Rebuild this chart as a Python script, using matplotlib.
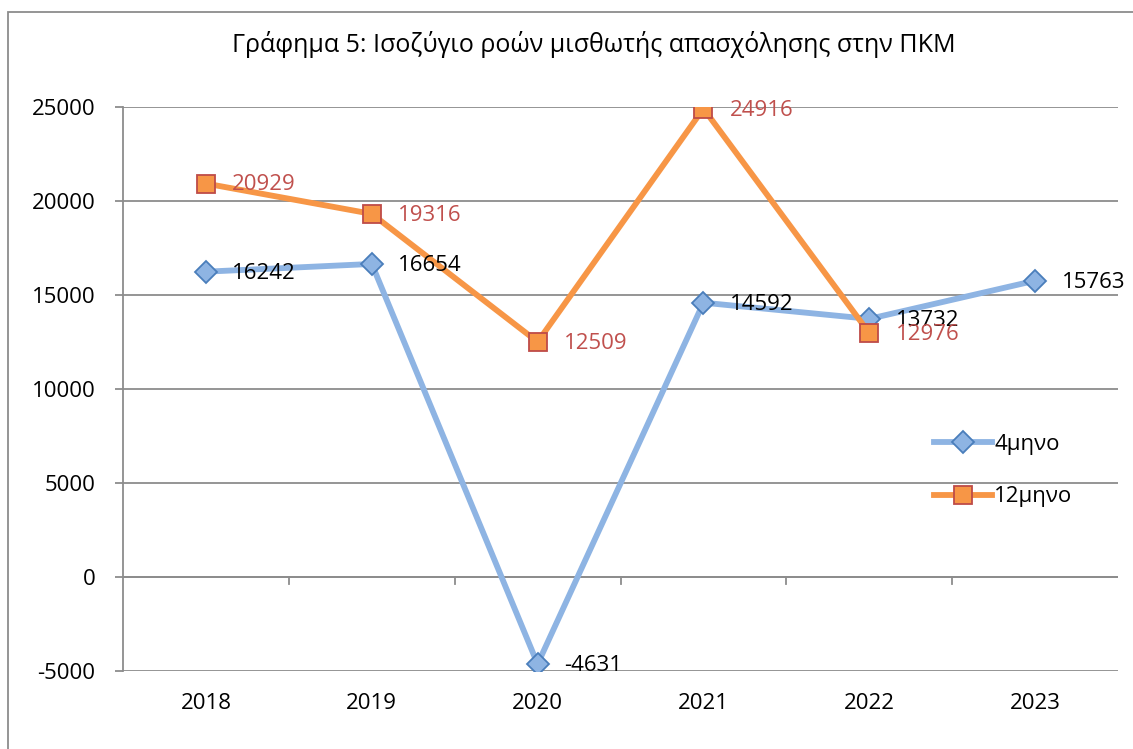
import matplotlib
matplotlib.use('Agg')
from matplotlib import pyplot as plt
from matplotlib.patches import Rectangle

plt.rcParams['font.family'] = ['Open Sans', 'DejaVu Sans']
plt.rcParams['axes.unicode_minus'] = False

years = ['2018', '2019', '2020', '2021', '2022', '2023']
tetramino = [16242, 16654, -4631, 14592, 13732, 15763]
dodekamino = [20929, 19316, 12509, 24916, 12976]
title = 'Γράφημα 5: Ισοζύγιο ροών μισθωτής απασχόλησης στην ΠΚΜ'

fig = plt.figure(figsize=(11.33, 7.49), dpi=100)
ax = fig.add_axes([0.1086, 0.1041, 0.8782, 0.7530])

xs = list(range(len(years)))
ax.plot(xs, tetramino, color='#8EB4E3', lw=4.2, marker='D', ms=11,
        mfc='#8EB4E3', mec='#4A7EBB', mew=1.3, label='4μηνο', zorder=3)
ax.plot(xs[:len(dodekamino)], dodekamino, color='#F79646', lw=4.2, marker='s', ms=13,
        mfc='#F79646', mec='#BE4B48', mew=1.3, label='12μηνο', zorder=4)

for x, v in zip(xs, tetramino):
    ax.annotate(str(v), (x, v), xytext=(19, -1), textcoords='offset points',
                va='center', ha='left', fontsize=16, color='black', zorder=5)
for x, v in zip(xs, dodekamino):
    ax.annotate(str(v), (x, v), xytext=(19, -1), textcoords='offset points',
                va='center', ha='left', fontsize=16, color='#C0504D', zorder=5)

ax.set_xlim(-0.5, 5.5)
ax.set_ylim(-5000, 25000)
ax.set_yticks(range(-5000, 25001, 5000))
ax.yaxis.grid(True, color='#8C8C8C', lw=1.3)
ax.set_axisbelow(True)
for s in ['top', 'right', 'bottom']:
    ax.spines[s].set_visible(False)
ax.spines['left'].set_color('#8C8C8C')
ax.spines['left'].set_linewidth(1.3)
ax.tick_params(axis='y', length=6, color='#8C8C8C', width=1.3, labelsize=16, pad=14)

# category axis crosses at 0
ax.axhline(0, color='#8C8C8C', lw=1.3, zorder=1)
ax.set_xticks(xs)
ax.set_xticklabels(years, fontsize=16)
ax.tick_params(axis='x', length=0, pad=16)
for b in [x + 0.5 for x in xs[:-1]]:
    ax.plot([b, b], [0, -350], color='#8C8C8C', lw=1.3, clip_on=False, zorder=1)

leg = ax.legend(loc='center left', bbox_to_anchor=(0.795, 0.355), frameon=False,
                fontsize=16, handlelength=2.6, handletextpad=0.1, labelspacing=1.4)

fig.text(0.524, 0.94, title, ha='center', va='center', fontsize=18)
fig.patches.append(Rectangle((0.007, -0.05), 1.05, 1.034, transform=fig.transFigure,
                             fill=False, ec='#8C8C8C', lw=1.3))

fig.savefig('out.png', dpi=100)
